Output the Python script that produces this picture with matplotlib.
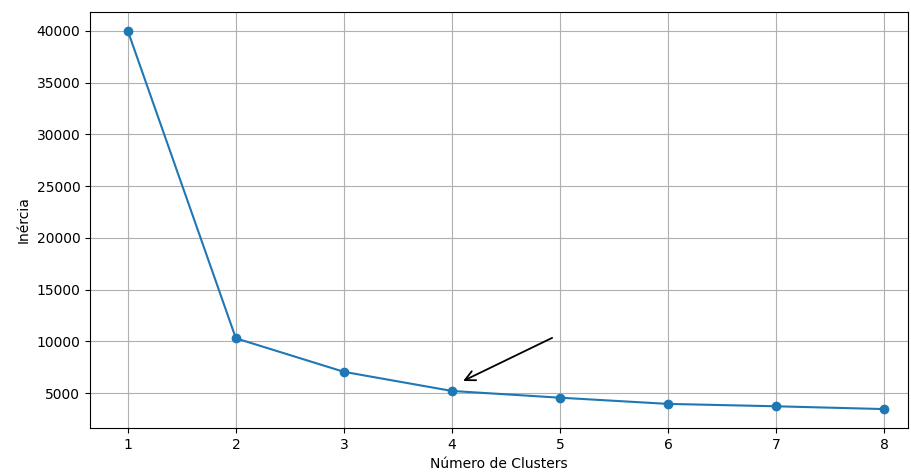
import matplotlib
matplotlib.use("Agg")
import matplotlib.pyplot as plt

clusters = [1, 2, 3, 4, 5, 6, 7, 8]
inercia = [40000, 10290, 7050, 5200, 4550, 3950, 3720, 3450]

fig = plt.figure(figsize=(9.11, 4.72), dpi=100)
ax = fig.add_axes([0.0988, 0.0932, 0.8979, 0.8814])

ax.plot(clusters, inercia, marker='o', color='#1f77b4')
ax.annotate('', xy=(4.08, 6050), xytext=(4.95, 10450),
            arrowprops=dict(arrowstyle='->', color='black', lw=1.3, mutation_scale=18))

ax.set_xlabel('Número de Clusters')
ax.set_ylabel('Inércia')
ax.set_xlim(0.65, 8.22)
ax.set_ylim(1620, 41830)
ax.set_xticks(clusters)
ax.set_yticks(range(5000, 40001, 5000))
ax.grid(True)

fig.savefig('out.png', dpi=100)
